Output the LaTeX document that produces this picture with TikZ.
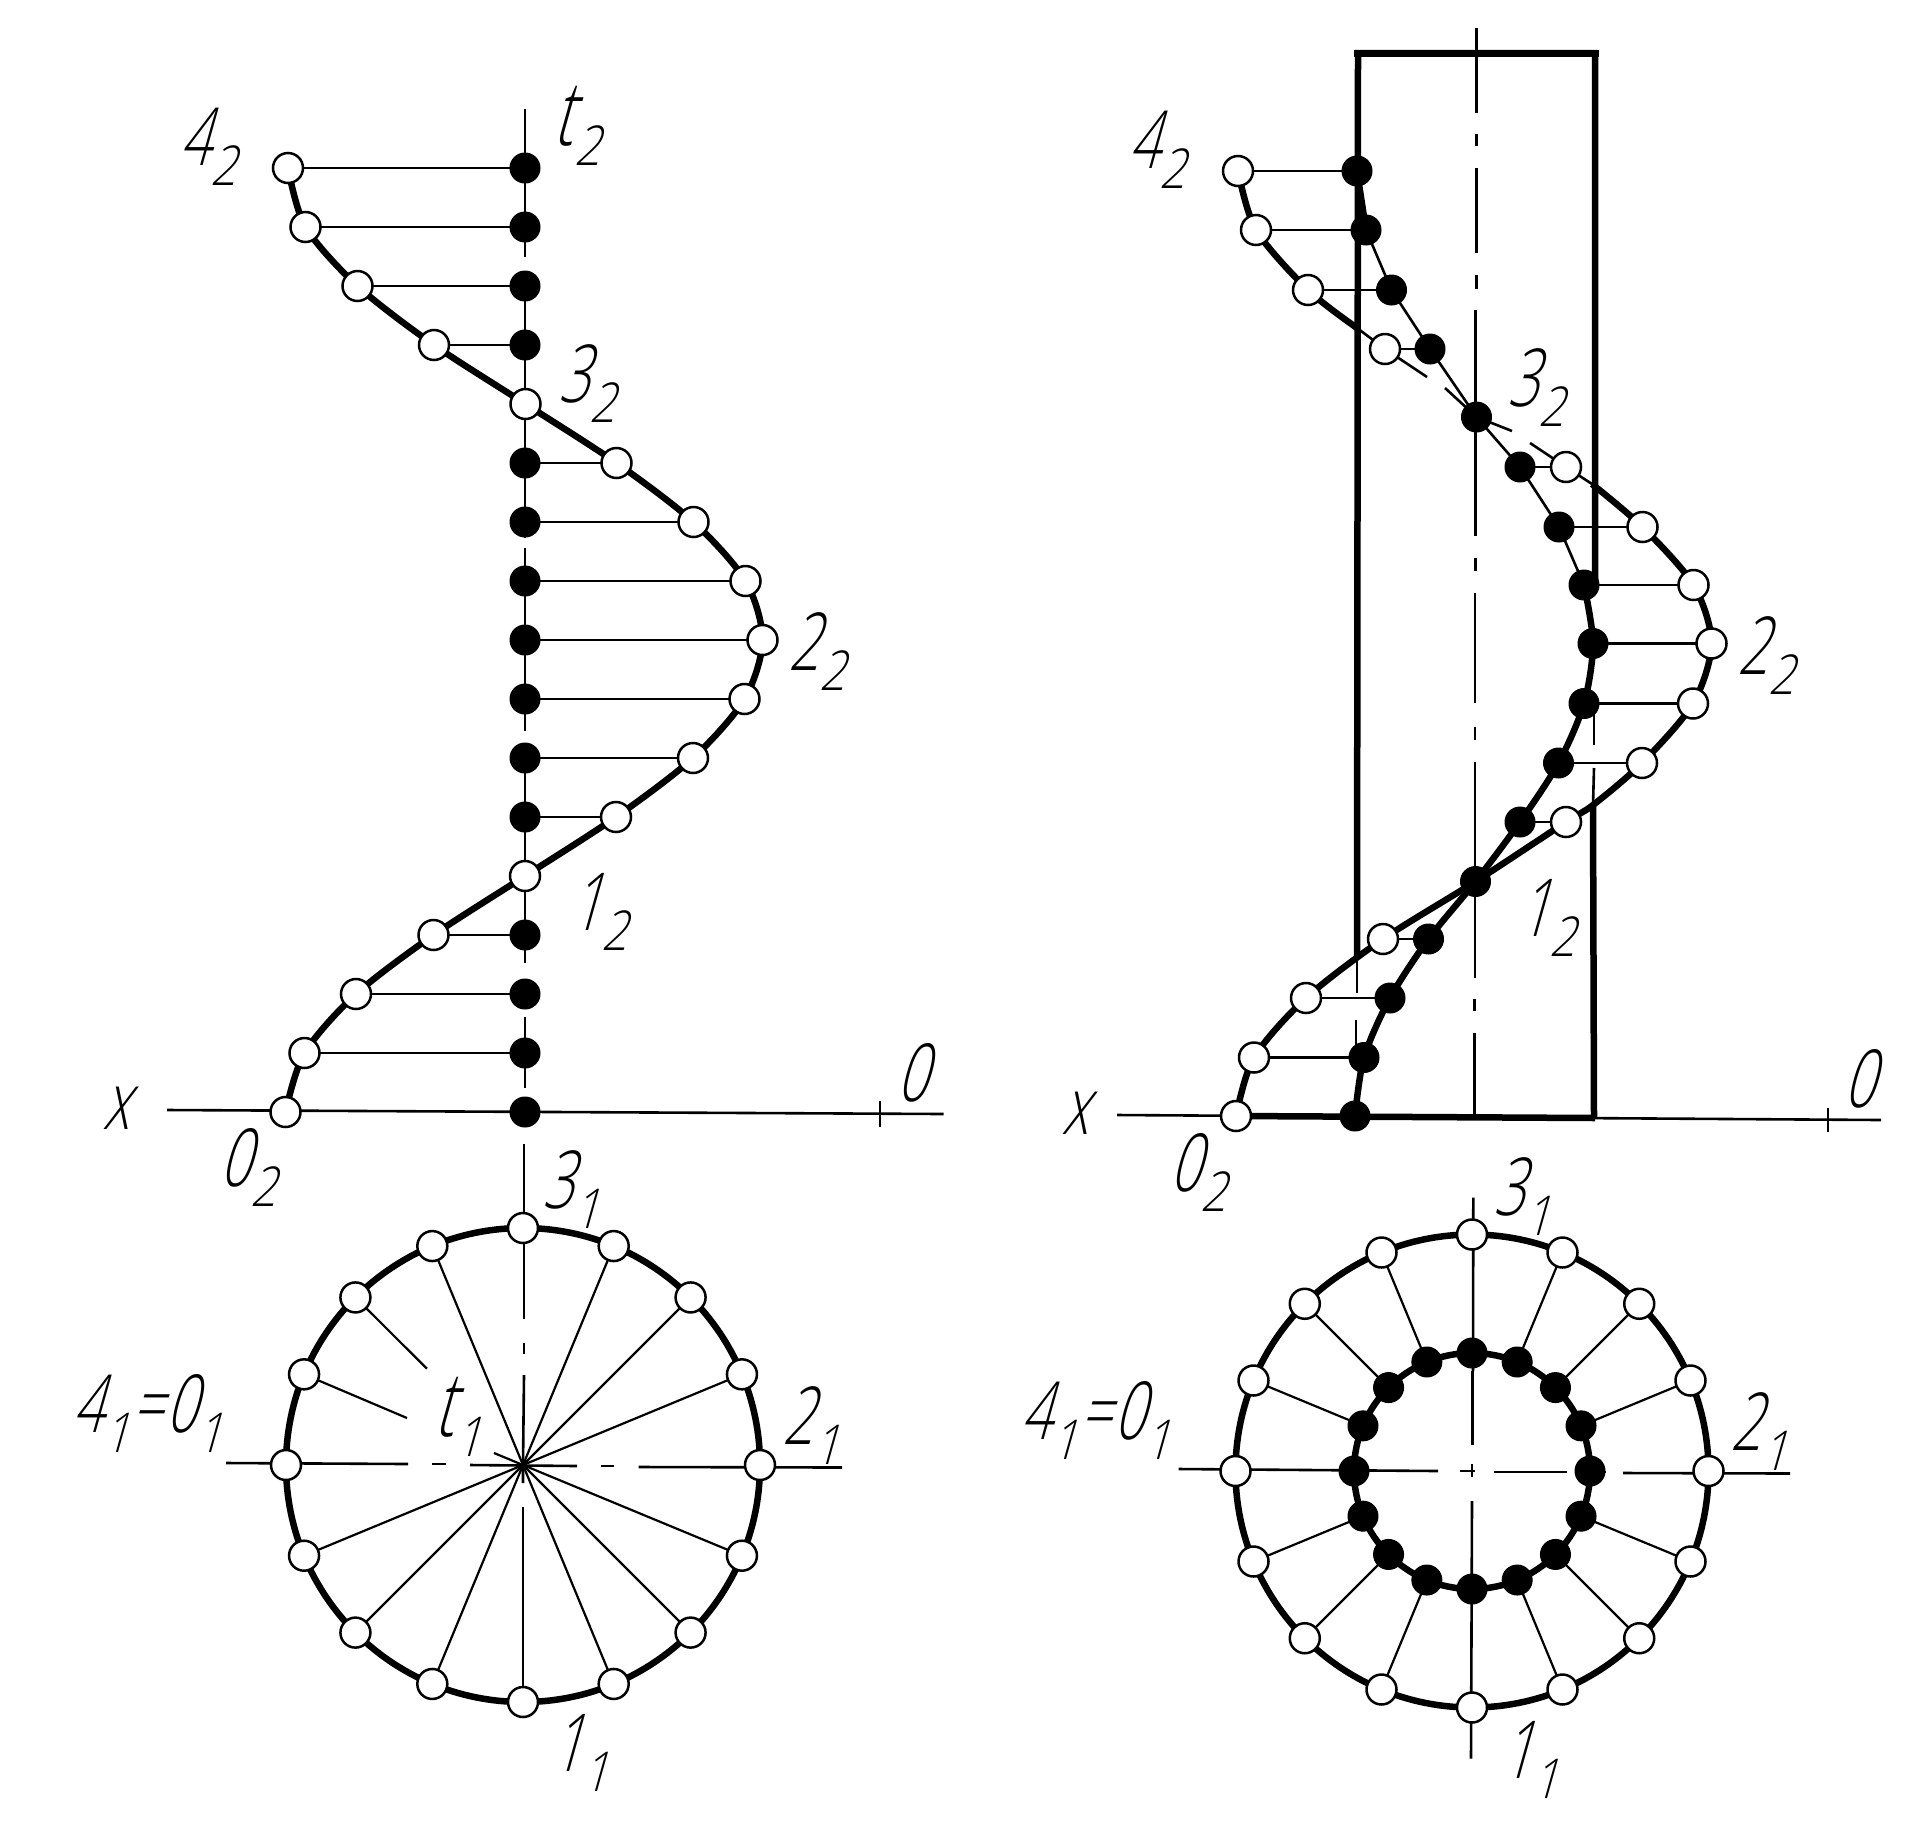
\documentclass[tikz,border=0pt]{standalone}
\usepackage{fontspec}
\usetikzlibrary{calc}
\newfontfamily\labm[FakeSlant=.28,FakeStretch=.68]{Open Sans Light}
\newfontfamily\labs[FakeSlant=.28,FakeStretch=.82]{Open Sans Light}
\newcommand{\mainsz}{\fontsize{80}{80}\selectfont\labm}
\newcommand{\subsz}{\fontsize{55}{55}\selectfont\labs}
\newcommand{\lb}[3][0pt]{{\mainsz #2}\kern#1\raisebox{-20pt}{\subsz #3}}
\newcommand{\tlb}[1]{{\fontsize{90}{90}\selectfont\labm t}\kern2pt\raisebox{-20pt}{\subsz #1}}
\tikzset{
  thinl/.style={line width=2.6pt,line cap=butt},
  thickl/.style={line width=6.5pt,line join=round},
  wall/.style={line width=6.5pt,line cap=butt},
  openpt/.style={circle,draw,fill=white,line width=2.5pt,minimum size=30pt,inner sep=0pt},
  blackpt/.style={circle,draw,fill=black,line width=1pt,minimum size=30pt,inner sep=0pt},
  txt/.style={anchor=base west,inner sep=0pt,outer sep=0pt,xshift=-4pt}
}
\begin{document}
\begin{tikzpicture}[x=1pt,y=-1pt]
\useasboundingbox (0,0) rectangle (1919,1829);
\fill[white] (0,0) rectangle (1919,1829);

% ===== left view: front projection =====
\foreach \k/\x/\y in {0/288/168,1/305.5/227,2/357.5/286,3/434/345,4/525.5/404,5/616.5/463,6/693.5/522,7/745.5/581,8/762.5/640,9/744.5/699,10/693/758,11/616/817,12/525/876,13/433.5/935,14/356/994,15/304.5/1053,16/285.5/1112}{
  \coordinate (LO\k) at (\x,\y);
}
\foreach \k/\y in {0/168,1/227,2/286,3/345,5/463,6/522,7/581,8/640,9/699,10/758,11/817,13/935,14/994,15/1053,16/1112}{
  \coordinate (LB\k) at (525,\y);
}
\draw[thinl] (167,1110) -- (943.6,1114);
\draw[thinl] (880,1101) -- (880,1127);
\foreach \a/\b in {109/257,271/538,548/731,743/963,979/1009,1017/1088,1100/1127}{
  \draw[thinl] (525,\a) -- (525,\b);
}
\foreach \k in {0,1,2,3,5,6,7,8,9,10,11,13,14,15}{
  \draw[thinl] (LO\k) -- (LB\k);
}
\draw[thickl] plot[smooth,tension=.5] coordinates {(LO0)(LO1)(LO2)(LO3)(LO4)(LO5)(LO6)(LO7)(LO8)(LO9)(LO10)(LO11)(LO12)(LO13)(LO14)(LO15)(LO16)};
\foreach \k in {0,1,2,3,4,5,6,7,8,9,10,11,12,13,14,15,16}{
  \node[openpt] (nLO\k) at (LO\k) {};
}
\foreach \k in {0,1,2,3,5,6,7,8,9,10,11,13,14,15,16}{
  \node[blackpt] (nLB\k) at (LB\k) {};
}

% ===== left view: plan =====
\coordinate (LC) at (523,1465);
\draw[thinl] (524,1144) -- (524,1319);
\draw[thinl] (524,1343) -- (524,1353.5);
\draw[thinl] (524,1375) -- (LC) -- (523,1483);
\draw[thinl] (523,1507) -- (523,1699);
\draw[thinl] (226,1463) -- (408,1464);
\draw[thinl] (432,1464) -- (446,1464);
\draw[thinl] (470,1465) -- (577,1466);
\draw[thinl] (601,1466) -- (614,1466);
\draw[thinl] (638.5,1467) -- (842,1467.5);
\foreach \a in {22.5,45,67.5,112.5,135,157.5,247.5,292.5,315,337.5}{
  \draw[line width=2.2pt] (LC) -- ($(LC)+(\a:237)$);
}
\draw[line width=2.2pt] ($(LC)+(225:237)$) -- (427,1368.7);
\draw[line width=2.2pt] ($(LC)+(202.5:237)$) -- (407,1418);
\draw[line width=2.2pt] (494,1453) -- (LC);
\draw[thickl] (LC) circle (237);
\foreach \i in {0,...,15}{
  \node[openpt] (LP\i) at ($(LC)+(\i*22.5:237)$) {};
}

% ===== right view: front projection =====
\foreach \k/\x/\y in {0/1238/171,1/1256/230,2/1308/290,3/1385/349,5/1566/467,6/1642.5/527,7/1693.5/585,8/1711.5/643.5,9/1693/703.5,10/1642/763,11/1566/822,13/1383/939,14/1306/998,15/1254/1057.5,16/1236/1116}{
  \coordinate (RO\k) at (\x,\y);
}
\foreach \k/\x/\y in {0/1357/171,1/1366/230,2/1391.5/290,3/1430/349,4/1476.5/417,5/1520/467,6/1559/527,7/1584/585,8/1593/643.5,9/1584/703.5,10/1558.5/763,11/1520/822,12/1475.5/881.5,13/1428.5/939,14/1390/998,15/1364/1057.5,16/1355/1116}{
  \coordinate (RB\k) at (\x,\y);
}
\coordinate (XA) at (1357,328);
\coordinate (XB) at (1592,484);
\coordinate (XC) at (1593,805);
\coordinate (XD) at (1357,957);
% axis line
\draw[thinl] (1117,1115) -- (1881,1120);
\draw[thinl] (1828,1108) -- (1828,1132);
% rectangle
\draw[wall] (1357,957) -- (1358,53) -- (1595,53) -- (1595,585);
\draw[line width=7pt] (1354,53) -- (1599,53);
\draw[wall] (1593,805) -- (1594,1118);
\draw[thinl] (XD) -- (1357,993);
\draw[thinl] (1356,1020) -- (1356,1045);
\draw[thinl] (1594,703.5) -- (1594,745);
\draw[thinl] (1594,768) -- (XC);
\draw[line width=6.5pt] (RO16) -- (1595,1118);
% centre line
\foreach \a/\b/\x in {28/113/1476.5,134/146/1476.5,168/253/1476.5,275/289/1476.5,310/536/1475.5,557.5/571/1475.5,593/703/1475,726.5/740/1475,762/978/1475,999/1011/1474.5,1033/1116/1474.5}{
  \draw[thinl] (\x,\a) -- (\x,\b);
}
% ties
\foreach \k in {0,1,2,3,5,6,7,8,9,10,11,13,14,15}{
  \draw[thinl] (RO\k) -- (RB\k);
}
% open helix
\draw[thickl] plot[smooth,tension=.5] coordinates {(RO0)(RO1)(RO2)(XA)};
\draw[thinl] (XA) -- (RO3);
\draw[thinl] (RO3) -- (1427,377);
\draw[thinl] (1445,388) -- (RB4) -- (1512,431);
\draw[thinl] (1530,443) -- (RO5) -- (XB);
\draw[thickl] plot[smooth,tension=.5] coordinates {(XB)(RO6)(RO7)(RO8)(RO9)(RO10)(XC)(RO11)(RB12)(RO13)(RO14)(RO15)(RO16)};
% black helix
\draw[thickl] (RB0) -- (RB1);
\draw[thinl] (RB1) -- (RB2) -- (RB3) -- (RB4) -- (RB5) -- (RB6) -- (RB7);
\draw[thickl] plot[smooth,tension=.5] coordinates {(RB7)(RB8)(RB9)(RB10)(RB11)(RB12)(RB13)(RB14)(RB15)(RB16)};
\foreach \k in {0,1,2,3,5,6,7,8,9,10,11,13,14,15,16}{
  \node[openpt] (nRO\k) at (RO\k) {};
}
\foreach \k in {0,...,16}{
  \node[blackpt] (nRB\k) at (RB\k) {};
}

% ===== right view: plan =====
\coordinate (RC) at (1472,1471);
\draw[thinl] (1473.3,1197.6) -- (1473,1371);
\draw[thinl] (1472.5,1371) -- (1472.5,1444.5);
\draw[thinl] (1472,1464) -- (1472,1477);
\draw[thinl] (1472,1501) -- (1471,1758.5);
\draw[thinl] (1178.5,1469) -- (1438,1471);
\draw[thinl] (1460,1471) -- (1474.5,1471);
\draw[thinl] (1494,1472) -- (1567,1472);
\draw[thinl] (1590,1472) -- (1606,1472);
\draw[thinl] (1623,1473) -- (1790,1473.5);
\foreach \a in {22.5,45,67.5,112.5,135,157.5,202.5,225,247.5,292.5,315,337.5}{
  \draw[line width=2.2pt] ($(RC)+(\a:236.5)$) -- ($(RC)+(\a:118)$);
}
\draw[thickl] (RC) circle (236.5);
\draw[thickl] (RC) circle (118);
\foreach \i in {0,...,15}{
  \node[openpt] (RP\i) at ($(RC)+(\i*22.5:236.5)$) {};
  \node[blackpt] (RI\i) at ($(RC)+(\i*22.5:118)$) {};
}

% ===== labels =====
\node[txt] (a1) at (183,165) {\lb{4}{2}};
\node[txt] (a2) at (556,145) {\tlb{2}};
\node[txt] (a3) at (562,402) {\lb{3}{2}};
\node[txt] (a4) at (792,670) {\lb{2}{2}};
\node[txt] (a5) at (574,930) {\lb{1}{2}};
\node[txt] (a6) at (106,1129) {\mainsz x};
\node[txt] (a7) at (900,1101) {\mainsz 0};
\node[txt] (a8) at (223,1186) {\lb{0}{2}};
\node[txt] (a9) at (546,1208) {\lb{3}{1}};
\node[txt] (a10) at (437,1436) {\tlb{1}};
\node[txt] (a11) at (76,1432) {\lb{4}{1}\kern3pt{\mainsz =}\kern3pt\lb{0}{1}};
\node[txt] (a12) at (786,1444) {\lb{2}{1}};
\node[txt] (a13) at (555,1771) {\lb{1}{1}};

\node[txt] (b1) at (1132,168) {\lb{4}{2}};
\node[txt] (b2) at (1511,406) {\lb{3}{2}};
\node[txt] (b3) at (1741,674) {\lb{2}{2}};
\node[txt] (b4) at (1522,936) {\lb{1}{2}};
\node[txt] (b5) at (1065,1134) {\mainsz x};
\node[txt] (b6) at (1847,1107) {\mainsz 0};
\node[txt] (b7) at (1173,1191) {\lb{0}{2}};
\node[txt] (b8) at (1497,1215) {\lb{3}{1}};
\node[txt] (b9) at (1024,1439) {\lb{4}{1}\kern3pt{\mainsz =}\kern3pt\lb{0}{1}};
\node[txt] (b10) at (1734,1450) {\lb{2}{1}};
\node[txt] (b11) at (1505,1778) {\lb{1}{1}};
\end{tikzpicture}
\end{document}
